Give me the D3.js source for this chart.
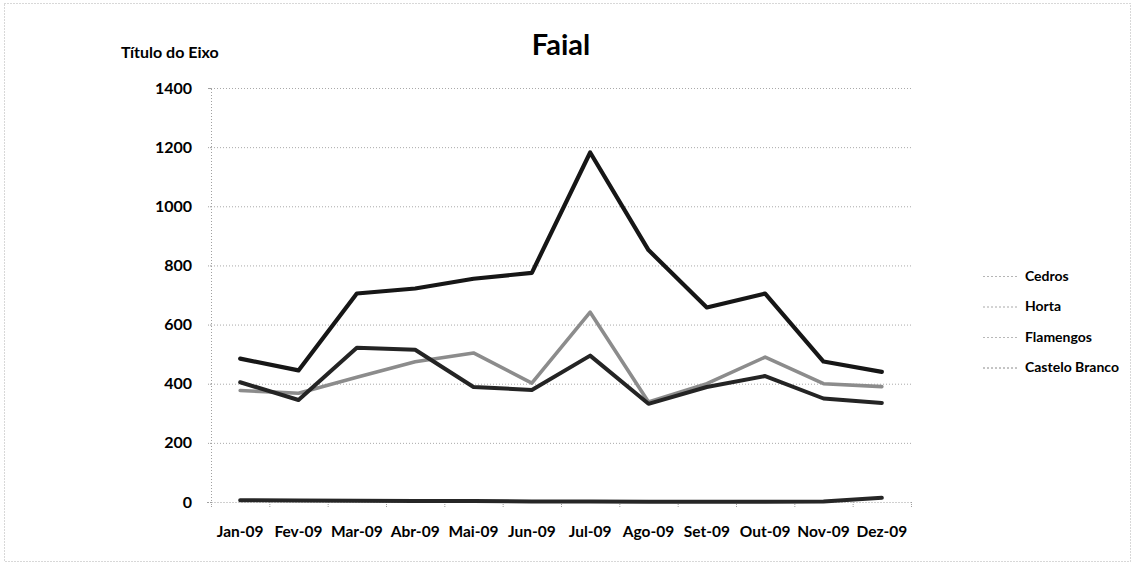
<!DOCTYPE html>
<html>
<head>
<meta charset="utf-8">
<script src="https://cdn.jsdelivr.net/npm/d3@7"></script>
<style>
  html, body { margin: 0; padding: 0; background: #fff; }
  svg { display: block; font-family: Lato, "Open Sans", sans-serif; }
  svg text { font-family: Lato, "Open Sans", sans-serif; }
</style>
</head>
<body>
<svg id="chart" width="1134" height="566"></svg>
<script>
// Monthly values per parish, Faial 2009
const months = ["Jan-09", "Fev-09", "Mar-09", "Abr-09", "Mai-09", "Jun-09",
                "Jul-09", "Ago-09", "Set-09", "Out-09", "Nov-09", "Dez-09"];
const cedros        = [6, 5, 4, 3, 3, 2, 2, 1, 1, 1, 2, 14];
const horta         = [485, 445, 705, 722, 755, 775, 1182, 852, 658, 705, 475, 440];
const flamengos     = [377, 368, 422, 474, 504, 402, 642, 338, 400, 490, 400, 390];
const casteloBranco = [405, 345, 522, 515, 389, 379, 495, 332, 389, 426, 350, 335];
const yTicks = [0, 200, 400, 600, 800, 1000, 1200, 1400];

const series = [
  { name: "Cedros",         values: cedros,        color: "#262626", width: 4,   legend: "#b5b5b5" },
  { name: "Horta",          values: horta,         color: "#161616", width: 4.2, legend: "#a8a8a8" },
  { name: "Flamengos",      values: flamengos,     color: "#8c8c8c", width: 3.6, legend: "#b8b8b8" },
  { name: "Castelo Branco", values: casteloBranco, color: "#242424", width: 4,   legend: "#8a8a8a" }
];

const font = "Lato, 'Open Sans', sans-serif";
const svg = d3.select("#chart");
const plot = { left: 211, right: 911, top: 88, bottom: 502 };

// outer chart frame
svg.append("rect")
  .attr("x", 4.5).attr("y", 3.5).attr("width", 1126).attr("height", 558)
  .attr("fill", "none").attr("stroke", "#b0b0b0").attr("stroke-width", 1)
  .attr("stroke-dasharray", "1,2");

const x = d3.scaleBand().domain(months).range([plot.left, plot.right]).padding(0);
const y = d3.scaleLinear().domain([0, 1400]).range([plot.bottom, plot.top]);

// horizontal gridlines
svg.append("g")
  .selectAll("line").data(yTicks.filter(t => t > 0)).join("line")
  .attr("x1", plot.left).attr("x2", plot.right)
  .attr("y1", d => y(d) + 0.5).attr("y2", d => y(d) + 0.5)
  .attr("stroke", "#a9a9a9").attr("stroke-width", 1).attr("stroke-dasharray", "1,2");

// value axis
const yAxis = svg.append("g")
  .attr("transform", `translate(${plot.left},0)`)
  .call(d3.axisLeft(y).tickValues(yTicks).tickSize(4).tickPadding(15).tickFormat(d3.format("d")));
yAxis.attr("font-family", font);
yAxis.select(".domain").attr("stroke", "#a0a0a0").attr("stroke-dasharray", "1,2");
yAxis.selectAll(".tick line").attr("stroke", "#a0a0a0").attr("stroke-dasharray", "1,1");
yAxis.selectAll("text").attr("font-size", 16).attr("font-weight", 700).attr("fill", "#000");

// category axis with tick marks between categories
const xAxis = svg.append("g")
  .attr("transform", `translate(0,${plot.bottom})`)
  .call(d3.axisBottom(x).tickSize(0).tickPadding(24));
xAxis.attr("font-family", font);
xAxis.select(".domain").attr("stroke", "#a0a0a0").attr("stroke-dasharray", "1,2");
xAxis.selectAll("text").attr("font-size", 15.5).attr("font-weight", 700).attr("fill", "#000");
svg.append("g")
  .selectAll("line").data(months.concat(["end"])).join("line")
  .attr("x1", (d, i) => plot.left + i * x.bandwidth() + 0.5)
  .attr("x2", (d, i) => plot.left + i * x.bandwidth() + 0.5)
  .attr("y1", plot.bottom).attr("y2", plot.bottom + 5)
  .attr("stroke", "#a0a0a0").attr("stroke-dasharray", "1,1");

// series lines
const line = d3.line()
  .x((d, i) => x(months[i]) + x.bandwidth() / 2)
  .y(d => y(d));

svg.append("g")
  .selectAll("path").data(series).join("path")
  .attr("d", d => line(d.values))
  .attr("fill", "none")
  .attr("stroke", d => d.color)
  .attr("stroke-width", d => d.width)
  .attr("stroke-linejoin", "round")
  .attr("stroke-linecap", "round");

// title and axis title
svg.append("text")
  .attr("x", 561).attr("y", 55).attr("text-anchor", "middle")
  .attr("font-size", 29).attr("font-weight", 700).attr("fill", "#000")
  .text("Faial");
svg.append("text")
  .attr("x", 121).attr("y", 58)
  .attr("font-size", 16).attr("font-weight", 700).attr("fill", "#000")
  .text("Título do Eixo");

// legend
const legend = svg.append("g").attr("transform", "translate(983,276)");
const items = legend.selectAll("g").data(series).join("g")
  .attr("transform", (d, i) => `translate(0,${i * 30.5})`);
items.append("line")
  .attr("x1", 0).attr("x2", 36).attr("y1", 0.5).attr("y2", 0.5)
  .attr("stroke", d => d.legend).attr("stroke-width", 1).attr("stroke-dasharray", "2,2");
items.append("text")
  .attr("x", 42).attr("y", 0).attr("dy", "0.35em")
  .attr("font-size", 14).attr("font-weight", 700).attr("fill", "#000")
  .text(d => d.name);
</script>
</body>
</html>
